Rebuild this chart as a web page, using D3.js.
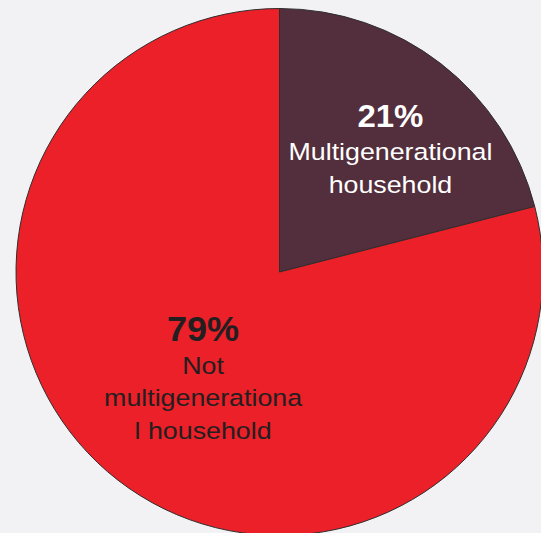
<!DOCTYPE html>
<html>
<head>
<meta charset="utf-8">
<script src="https://cdn.jsdelivr.net/npm/d3@7/dist/d3.min.js"></script>
<style>
  html, body { margin: 0; padding: 0; background: #f2f2f4; }
  svg { display: block; }
</style>
</head>
<body>
<svg id="chart" width="541" height="533"></svg>
<script>
// Share of households
const categories = ["Multigenerational household", "Not multigenerational household"];
const values = [21, 79];
const percentLabels = ["21%", "79%"];
const nameLines = [["Multigenerational", "household"], ["Not", "multigenerationa", "l household"]];

const colors = ["#532e3c", "#ec2028"];
const textColors = ["#ffffff", "#231f20"];

const width = 541, height = 533;
const cx = 279.5, cy = 272, radius = 263.5;

const svg = d3.select("#chart");
const g = svg.append("g").attr("transform", `translate(${cx},${cy})`);

const pie = d3.pie().sort(null).value(d => d);
const arcs = pie(values);
const arc = d3.arc().innerRadius(0).outerRadius(radius);
const labelArc = d3.arc().innerRadius(radius * 0.56).outerRadius(radius * 0.56);

g.selectAll("path.slice")
  .data(arcs)
  .join("path")
  .attr("class", "slice")
  .attr("d", arc)
  .attr("fill", (d, i) => colors[i])
  .attr("stroke", "#2e2e2e")
  .attr("stroke-width", 1);

// label block offsets from the slice centroid (first baseline)
const labelShift = [[20.5, -28], [14, -48]];
const boldSize = [32, 35];

arcs.forEach((d, i) => {
  const [x, y] = labelArc.centroid(d);
  const lx = x + labelShift[i][0], ly = y + labelShift[i][1];
  const lg = g.append("g").attr("transform", `translate(${lx},${ly})`);
  lg.append("text")
    .attr("text-anchor", "middle")
    .attr("font-family", "Liberation Sans, Arial, sans-serif")
    .attr("font-weight", "bold")
    .attr("font-size", boldSize[i])
    .attr("fill", textColors[i])
    .attr("transform", "scale(1.03,1)")
    .text(percentLabels[i]);
  nameLines[i].forEach((line, j) => {
    lg.append("text")
      .attr("text-anchor", "middle")
      .attr("font-family", "Liberation Sans, Arial, sans-serif")
      .attr("font-size", 23.5)
      .attr("fill", textColors[i])
      .attr("transform", `translate(0,${33 + j * 32.7}) scale(1.14,1)`)
      .text(line);
  });
});
</script>
</body>
</html>
